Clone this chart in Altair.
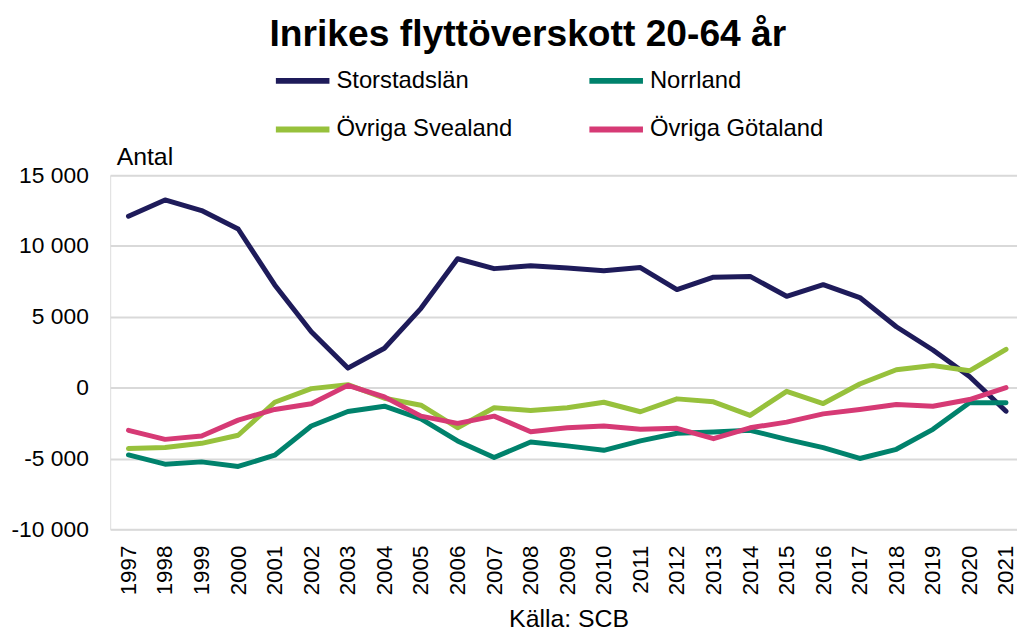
import altair as alt
import pandas as pd

years = list(range(1997, 2022))
series_names = ["Storstadslän", "Norrland", "Övriga Svealand", "Övriga Götaland"]
series_colors = ["#1E1B5A", "#00826C", "#97C13C", "#D63A75"]

storstad = [12100, 13250, 12500, 11200, 7250, 3950, 1380, 2780, 5600, 9100, 8400, 8600,
            8450, 8250, 8480, 6920, 7800, 7850, 6450, 7270, 6360, 4300, 2660, 790, -1660]
norrland = [-4750, -5400, -5240, -5560, -4770, -2710, -1680, -1310, -2200, -3760, -4930, -3830,
            -4110, -4420, -3760, -3220, -3130, -3010, -3650, -4230, -5000, -4350, -2940, -1070, -1070]
svealand = [-4300, -4230, -3930, -3360, -1030, -70, 210, -750, -1240, -2830, -1420, -1610,
            -1420, -1030, -1700, -790, -1000, -1960, -260, -1120, 260, 1260, 1560, 1190, 2710]
gotaland = [-3010, -3650, -3410, -2290, -1540, -1140, 160, -650, -2010, -2520, -2010, -3110,
            -2830, -2710, -2940, -2870, -3600, -2830, -2430, -1850, -1540, -1190, -1310, -840, 0]

y_ticks = [-10000, -5000, 0, 5000, 10000, 15000]

rows = []
for name, vals in zip(series_names, [storstad, norrland, svealand, gotaland]):
    for yr, v in zip(years, vals):
        rows.append({"År": yr, "Antal": v, "Region": name})
df = pd.DataFrame(rows)

FONT = "Liberation Sans"

chart = alt.Chart(df).mark_line(strokeWidth=5, strokeCap="round", strokeJoin="round").encode(
    x=alt.X("År:Q",
            scale=alt.Scale(domain=[1996.5, 2021.3], nice=False, zero=False),
            axis=alt.Axis(values=years, format="d", labelAngle=-90, labelFontSize=22.5,
                          labelPadding=16, grid=False, domain=False, ticks=False,
                          labelColor="#000000", labelFont=FONT,
                          title="Källa: SCB", titleFontSize=25, titleFontWeight="normal",
                          titleFont=FONT, titleColor="#000000",
                          titleX=462, titleY=98, titleBaseline="alphabetic", titleAlign="center")),
    y=alt.Y("Antal:Q",
            scale=alt.Scale(domain=[-10000, 15000], nice=False),
            axis=alt.Axis(values=y_ticks, grid=True, gridColor="#D9D9D9", gridWidth=2,
                          domain=False, ticks=False, labelFontSize=23, labelPadding=22,
                          labelColor="#000000", labelFont=FONT,
                          labelExpr="replace(replace(format(datum.value, ','), ',', ' '), '−', '-')",
                          title="Antal", titleAngle=0, titleAlign="left",
                          titleBaseline="alphabetic", titleX=6, titleY=-11,
                          titleFontSize=25, titleFontWeight="normal", titleFont=FONT,
                          titleColor="#000000")),
    color=alt.Color("Region:N",
                    scale=alt.Scale(domain=series_names, range=series_colors),
                    legend=alt.Legend(title=None, orient="none", legendX=164, legendY=-125,
                                      direction="horizontal",
                                      columns=2, columnPadding=65, rowPadding=7,
                                      symbolType="stroke", symbolSize=2916,
                                      symbolStrokeWidth=6, labelFontSize=24,
                                      labelFont=FONT, labelColor="#000000",
                                      labelOffset=4, labelLimit=400)),
    order=alt.Order("År:Q"),
).properties(
    width=914,
    height=357,
    title=alt.TitleParams("Inrikes flyttöverskott 20-64 år", fontSize=37.5, fontWeight="bold",
                          font=FONT, color="#000000", anchor="middle", frame="group",
                          dx=-36, dy=6),
    autosize=alt.AutoSizeParams(type="none"),
    padding={"left": 103, "top": 166, "right": 0, "bottom": 100},
).configure_view(stroke=None).configure(font=FONT)

chart.save("out.html", embed_options={"renderer": "svg", "actions": False})
